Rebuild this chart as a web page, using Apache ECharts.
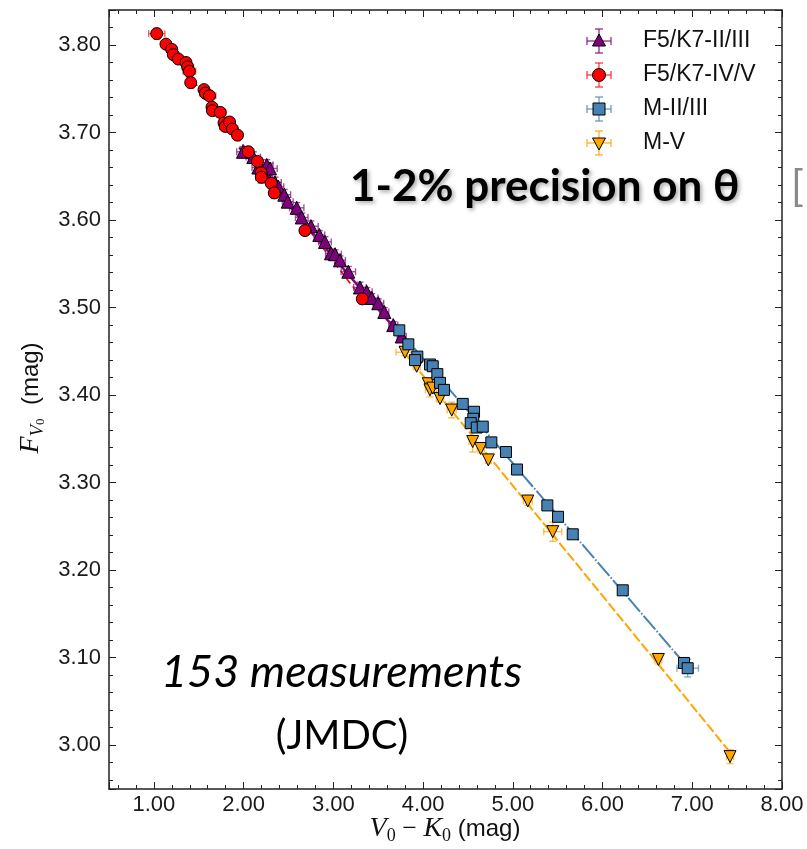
<!DOCTYPE html>
<html><head><meta charset="utf-8">
<script src="https://cdn.jsdelivr.net/npm/echarts@6/dist/echarts.min.js"></script>
<style>html,body{margin:0;padding:0;background:#fff}#c{width:807px;height:849px}</style>
</head><body><div id="c"></div>
<script>
// ---- data: [V0-K0, F_V0, xErr, yErr] ----
const giantsFK = [ // F5/K7-II/III
  [1.993,3.678,0.07,0.006],[2.108,3.672,0.08,0.006],[2.164,3.660,0.07,0.006],[2.208,3.655,0.06,0.005],
  [2.258,3.663,0.07,0.006],[2.258,3.651,0.06,0.005],[2.294,3.659,0.08,0.006],[2.350,3.643,0.07,0.006],
  [2.387,3.638,0.06,0.005],[2.454,3.629,0.07,0.006],[2.492,3.621,0.06,0.005],[2.592,3.614,0.08,0.006],
  [2.648,3.603,0.07,0.005],[2.751,3.593,0.08,0.006],[2.844,3.583,0.06,0.005],[2.907,3.575,0.07,0.006],
  [2.974,3.562,0.06,0.005],[3.019,3.561,0.07,0.005],[3.074,3.554,0.06,0.005],[3.167,3.541,0.08,0.006],
  [3.297,3.523,0.07,0.006],[3.372,3.518,0.06,0.005],[3.428,3.511,0.07,0.005],[3.501,3.505,0.06,0.005],
  [3.568,3.495,0.05,0.005],[3.668,3.480,0.05,0.004],[3.762,3.467,0.05,0.004]
];
const dwarfsFK = [ // F5/K7-IV/V
  [1.032,3.813,0.09,0.006],[1.135,3.801,0.04,0.004],[1.199,3.795,0.05,0.005],[1.217,3.789,0.04,0.004],
  [1.272,3.784,0.05,0.005],[1.358,3.780,0.05,0.005],[1.377,3.775,0.06,0.006],[1.395,3.770,0.07,0.007],
  [1.411,3.757,0.04,0.006],[1.559,3.749,0.05,0.004],[1.575,3.745,0.06,0.005],[1.620,3.742,0.07,0.005],
  [1.648,3.729,0.05,0.005],[1.653,3.725,0.04,0.004],[1.740,3.723,0.06,0.005],[1.782,3.711,0.05,0.006],
  [1.796,3.707,0.06,0.005],[1.843,3.712,0.05,0.005],[1.874,3.704,0.06,0.005],[1.932,3.697,0.05,0.004],
  [2.052,3.678,0.06,0.006],[2.155,3.667,0.05,0.005],[2.196,3.654,0.05,0.005],[2.197,3.649,0.06,0.007],
  [2.308,3.642,0.05,0.005],[2.342,3.631,0.05,0.006],[2.684,3.588,0.05,0.005],[3.323,3.510,0.05,0.006]
];
const giantsM = [ // M-II/III
  [3.735,3.474,0.05,0.005],[3.836,3.458,0.04,0.004],[3.936,3.444,0.04,0.004],[3.910,3.440,0.03,0.003],
  [4.077,3.435,0.04,0.004],[4.108,3.433,0.04,0.004],[4.159,3.424,0.03,0.004],[4.189,3.414,0.03,0.003],
  [4.233,3.406,0.06,0.004],[4.442,3.390,0.03,0.003],[4.568,3.381,0.03,0.003],[4.560,3.373,0.03,0.003],
  [4.531,3.368,0.03,0.003],[4.598,3.363,0.03,0.003],[4.665,3.364,0.03,0.003],[4.761,3.346,0.03,0.003],
  [4.924,3.335,0.03,0.003],[5.047,3.315,0.03,0.003],[5.385,3.274,0.04,0.003],[5.504,3.261,0.03,0.003],
  [5.668,3.241,0.04,0.003],[6.225,3.177,0.03,0.003],[6.908,3.094,0.05,0.006],[6.949,3.088,0.12,0.010]
];
const dwarfsM = [ // M-V
  [3.799,3.449,0.10,0.004],[3.929,3.433,0.04,0.004],[4.058,3.413,0.04,0.005],[4.077,3.406,0.05,0.008],
  [4.108,3.408,0.04,0.005],[4.189,3.396,0.04,0.004],[4.319,3.383,0.05,0.009],[4.553,3.347,0.04,0.012],
  [4.642,3.339,0.04,0.005],[4.727,3.326,0.03,0.004],[5.167,3.279,0.05,0.005],[5.445,3.244,0.10,0.011],
  [6.622,3.098,0.04,0.005],[7.421,2.987,0.04,0.008]
];
// fitted relations (endpoints)
const fitGiantsFK = [[1.95,3.683],[3.77,3.466]];
const fitDwarfsFK = [[1.032,3.813],[3.323,3.510]];
const fitGiantsM  = [[3.73,3.474],[6.908,3.094]];
const fitDwarfsM  = [[3.78,3.450],[7.421,2.992]];
const seriesNames = ['F5/K7-II/III','F5/K7-IV/V','M-II/III','M-V'];
const xRange = [0.5, 8.0];
const yRange = [2.95, 3.84];

const C = {
  purple:'#800080', purpleE:'rgba(140,20,140,0.75)',
  red:'#ff0000', redE:'rgba(255,40,40,0.75)',
  blue:'#4682b4', blueE:'rgba(70,130,180,0.65)',
  orange:'#ffa500', orangeE:'rgba(255,170,20,0.75)'
};

function errSeries(data, color, z){
  return {type:'custom', data, dimensions:['x','y','xe','ye'], encode:{x:0,y:1}, z, silent:true, clip:false,
    renderItem(params, api){
      const x=api.value(0), y=api.value(1), xe=api.value(2), ye=api.value(3);
      const l=api.coord([x-xe,y]), r=api.coord([x+xe,y]), t=api.coord([x,y+ye]), b=api.coord([x,y-ye]);
      const c=3.5, st={stroke:color, lineWidth:1.4};
      const L=(x1,y1,x2,y2)=>({type:'line', shape:{x1,y1,x2,y2}, style:st});
      return {type:'group', children:[
        L(l[0],l[1],r[0],r[1]), L(l[0],l[1]-c,l[0],l[1]+c), L(r[0],r[1]-c,r[0],r[1]+c),
        L(t[0],t[1],b[0],b[1]), L(t[0]-c,t[1],t[0]+c,t[1]), L(b[0]-c,b[1],b[0]+c,b[1])
      ]};
    }};
}
function ptSeries(name, data, color, symbol, size, z, rot){
  return {type:'scatter', name, data:data.map(d=>[d[0],d[1]]), symbol, symbolSize:size, symbolRotate:rot||0, z,
    itemStyle:{color, borderColor:'#000', borderWidth:1, opacity:1}};
}
function fitSeries(data, color, type, width){
  return {type:'line', data, showSymbol:false, symbol:'none', z:1, silent:true,
    lineStyle:{color, width, type}};
}

const axisCommon = {
  type:'value', splitLine:{show:false},
  axisLine:{show:true, onZero:false, lineStyle:{color:'#222', width:1.5}},
  axisTick:{show:true, inside:true, length:7, lineStyle:{color:'#222', width:1}},
  minorTick:{show:true, splitNumber:5, length:4, lineStyle:{color:'#222', width:1}}
};
const labelFont = {fontFamily:'Liberation Sans', fontSize:22, color:'#1a1a1a'};

// legend built as graphic
const legendY = [41,75,109,143];
const legendCol = [[C.purple,C.purpleE,'tri'],[C.red,C.redE,'circ'],[C.blue,C.blueE,'sq'],[C.orange,C.orangeE,'tridn']];
const gfx = [];
legendY.forEach((cy,i)=>{
  const [fc, ec, shp] = legendCol[i], cx=599;
  const st={stroke:ec, lineWidth:1.6};
  const L=(x1,y1,x2,y2)=>({type:'line', shape:{x1,y1,x2,y2}, style:st, z:100});
  gfx.push(L(cx-12,cy,cx+12,cy), L(cx-12,cy-4,cx-12,cy+4), L(cx+12,cy-4,cx+12,cy+4),
           L(cx,cy-12,cx,cy+12), L(cx-4,cy-12,cx+4,cy-12), L(cx-4,cy+12,cx+4,cy+12));
  const ms={fill:fc, stroke:'#000', lineWidth:1};
  if(shp==='tri') gfx.push({type:'polygon', shape:{points:[[cx,cy-7],[cx-6.5,cy+5],[cx+6.5,cy+5]]}, style:ms, z:101});
  if(shp==='tridn') gfx.push({type:'polygon', shape:{points:[[cx,cy+7],[cx-6.5,cy-5],[cx+6.5,cy-5]]}, style:ms, z:101});
  if(shp==='circ') gfx.push({type:'circle', shape:{cx,cy,r:6.5}, style:ms, z:101});
  if(shp==='sq') gfx.push({type:'rect', shape:{x:cx-6,y:cy-6,width:12,height:12}, style:ms, z:101});
  gfx.push({type:'text', z:101, style:{text:seriesNames[i], x:643, y:cy, align:'left', verticalAlign:'middle',
    font:'23px "Liberation Sans"', fill:'#111'}});
});
// annotations
gfx.push({type:'text', z:102, style:{text:'1-2% precision on θ', x:350, y:187, align:'left', verticalAlign:'middle',
  font:'bold 44px Lato', fill:'#000', textShadowColor:'rgba(0,0,0,0.35)', textShadowBlur:4, textShadowOffsetX:2, textShadowOffsetY:2}});
gfx.push({type:'text', z:102, style:{text:'[', x:791, y:187, align:'left', verticalAlign:'middle',
  font:'42px Lato', fill:'#8a8a8a'}});
gfx.push({type:'text', z:102, style:{text:'153 measurements', x:161, y:672, align:'left', verticalAlign:'middle',
  font:'italic 45px Lato', fill:'#000'}});
gfx.push({type:'text', z:102, style:{text:'(JMDC)', x:342, y:736, align:'center', verticalAlign:'middle',
  font:'40px Lato', fill:'#000'}});
// axis titles
const mathI = {fontFamily:'Liberation Serif', fontStyle:'italic', fontSize:28, lineHeight:32, verticalAlign:'middle', fill:'#111'};
gfx.push({type:'text', z:102, x:445, y:829, style:{
  text:'{i|V}{s|0}{o| − }{i|K}{s|0}{m| (mag)}', align:'center', verticalAlign:'middle',
  rich:{ i:mathI, s:{fontFamily:'Liberation Serif', fontSize:18, lineHeight:14, verticalAlign:'bottom', fill:'#111'},
         o:{fontFamily:'Liberation Serif', fontSize:26, lineHeight:32, verticalAlign:'middle', fill:'#111'},
         m:{fontFamily:'Liberation Sans', fontSize:24, lineHeight:32, verticalAlign:'middle', fill:'#111'} }}});
gfx.push({type:'text', z:102, x:31, y:398, rotation:Math.PI/2, style:{
  text:'{i|F}{v|V}{z|0}{m|  (mag)}', align:'center', verticalAlign:'middle',
  rich:{ i:mathI, v:{fontFamily:'Liberation Serif', fontStyle:'italic', fontSize:19, lineHeight:17, verticalAlign:'bottom', fill:'#111'},
         z:{fontFamily:'Liberation Serif', fontSize:13, lineHeight:8, verticalAlign:'bottom', fill:'#111'},
         m:{fontFamily:'Liberation Sans', fontSize:24, lineHeight:32, verticalAlign:'middle', fill:'#111'} }}});

const chart = echarts.init(document.getElementById('c'), null, {renderer:'canvas'});
chart.setOption({
  animation:false, backgroundColor:'#fff',
  grid:{left:109, right:25, top:10, bottom:60, containLabel:false, outerBoundsMode:'none'},
  xAxis:[
    Object.assign({}, axisCommon, {min:xRange[0], max:xRange[1], splitNumber:7, position:'bottom',
      axisLabel:Object.assign({show:true, margin:5, showMinLabel:false, showMaxLabel:true, formatter:v=>v.toFixed(2)}, labelFont)}),
    Object.assign({}, axisCommon, {min:xRange[0], max:xRange[1], splitNumber:7, position:'top', axisLabel:{show:false}})
  ],
  yAxis:[
    Object.assign({}, axisCommon, {min:yRange[0], max:yRange[1], splitNumber:9, position:'left',
      axisLabel:Object.assign({show:true, margin:8, showMinLabel:false, showMaxLabel:false, formatter:v=>v.toFixed(2)}, labelFont)}),
    Object.assign({}, axisCommon, {min:yRange[0], max:yRange[1], splitNumber:9, position:'right', axisLabel:{show:false}})
  ],
  series:[
    fitSeries(fitDwarfsFK, C.red, [6,4], 1.6),
    fitSeries(fitGiantsFK, C.purple, 'solid', 2.4),
    fitSeries(fitDwarfsM, C.orange, [10,3], 2),
    fitSeries(fitGiantsM, C.blue, [18,2,1.5,2], 2),
    errSeries(giantsFK, C.purpleE, 2),
    errSeries(dwarfsFK, C.redE, 2),
    errSeries(dwarfsM, C.orangeE, 2),
    errSeries(giantsM, C.blueE, 2),
    ptSeries(seriesNames[0], giantsFK, C.purple, 'triangle', 13, 3),
    ptSeries(seriesNames[1], dwarfsFK, C.red, 'circle', 12, 4),
    ptSeries(seriesNames[3], dwarfsM, C.orange, 'triangle', 12, 5, 180),
    ptSeries(seriesNames[2], giantsM, C.blue, 'rect', 11, 6)
  ],
  graphic: gfx
});
</script></body></html>
